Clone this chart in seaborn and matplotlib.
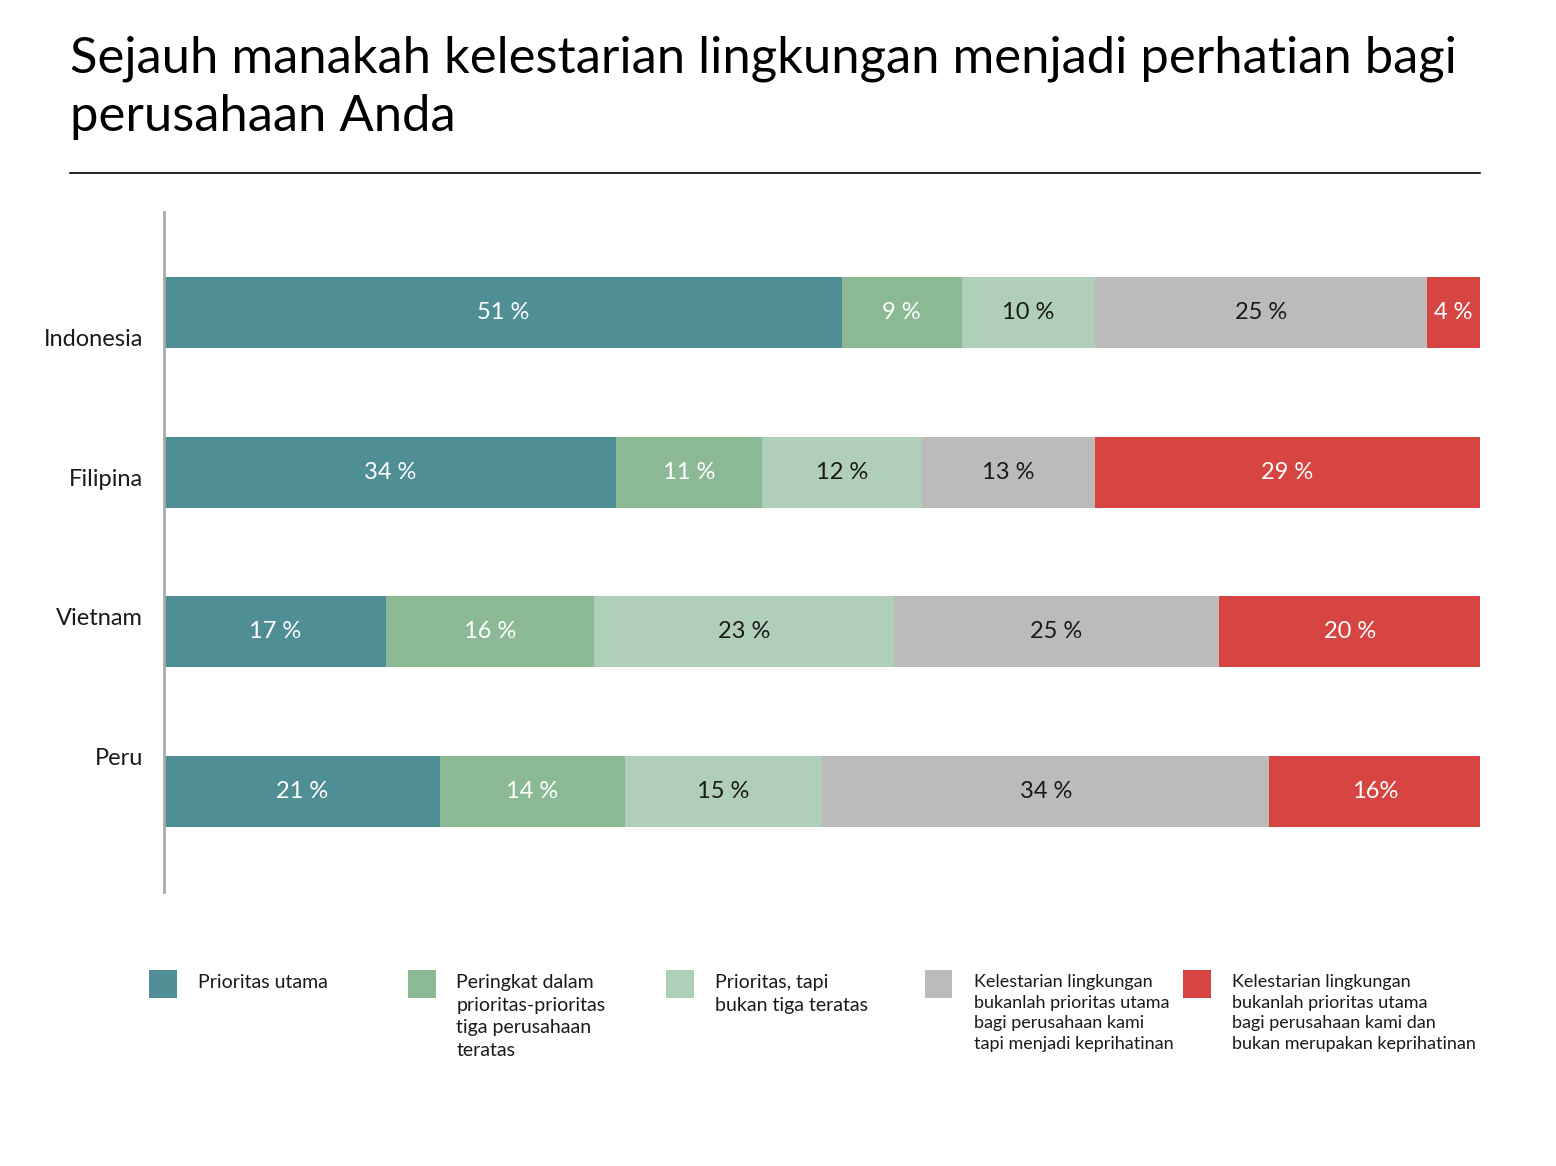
import pandas as pd
import seaborn as sns
import matplotlib.pyplot as plt
from matplotlib.patches import Rectangle

# data dibaca dari gambar referensi
countries = ["Indonesia", "Filipina", "Vietnam", "Peru"]
categories = [
    "Prioritas utama",
    "Peringkat dalam\nprioritas-prioritas\ntiga perusahaan\nteratas",
    "Prioritas, tapi\nbukan tiga teratas",
    "Kelestarian lingkungan\nbukanlah prioritas utama\nbagi perusahaan kami\ntapi menjadi keprihatinan",
    "Kelestarian lingkungan\nbukanlah prioritas utama\nbagi perusahaan kami dan\nbukan merupakan keprihatinan",
]
prioritas_utama = [51, 34, 17, 21]
tiga_teratas = [9, 11, 16, 14]
bukan_tiga_teratas = [10, 12, 23, 15]
menjadi_keprihatinan = [25, 13, 25, 34]
bukan_keprihatinan = [4, 29, 20, 16]
label_tanpa_spasi = {("Peru", 4)}  # di gambar tertulis "16%"

colors = ["#4E8E94", "#8AB994", "#B0CFB8", "#BBBBBB", "#D64541"]
text_colors = ["white", "white", "#1a1a1a", "#1a1a1a", "white"]

series = [prioritas_utama, tiga_teratas, bukan_tiga_teratas,
          menjadi_keprihatinan, bukan_keprihatinan]

# tabel panjang: tiap baris dinormalisasi ke 100 (bar penuh)
rows = []
for i, c in enumerate(countries):
    total = sum(s[i] for s in series)
    start = 0.0
    for k, s in enumerate(series):
        share = s[i] / total * 100
        rows.append({"negara": c, "kat": k, "nilai": s[i],
                     "mulai": start, "akhir": start + share})
        start += share
df = pd.DataFrame(rows)

plt.rcParams["font.family"] = ["Lato", "DejaVu Sans"]
fig = plt.figure(figsize=(15.56, 11.66), dpi=100)
ax = fig.add_axes([164 / 1556, 1 - 892 / 1166, 1316 / 1556, 680 / 1166])

# stacked: gambar kumulatif dari belakang ke depan
for k in reversed(range(len(categories))):
    sub = df[df["kat"] == k]
    sns.barplot(data=sub, x="akhir", y="negara", order=countries, orient="h",
                color=colors[k], saturation=1, width=0.445, linewidth=0,
                ax=ax)

for _, r in df.iterrows():
    txt = f"{r['nilai']}%" if (r["negara"], r["kat"]) in label_tanpa_spasi else f"{r['nilai']} %"
    ax.text((r["mulai"] + r["akhir"]) / 2, countries.index(r["negara"]), txt,
            ha="center", va="center", fontsize=17, color=text_colors[r["kat"]])

ax.set_xlim(0, 100)
ax.set_ylim(3.633, -0.633)
ax.set_xticks([])
ax.set_yticks([])
ax.set_xlabel("")
ax.set_ylabel("")
for s in ["top", "right", "bottom"]:
    ax.spines[s].set_visible(False)
ax.spines["left"].set_color("#AAAAAA")
ax.spines["left"].set_linewidth(2)

# label negara (sedikit bergeser dari pusat bar, seperti aslinya)
for i, c in enumerate(countries):
    ax.text(-21 / 1316, 1 - (0.188 + i * 0.205), c, transform=ax.transAxes,
            ha="right", va="center", fontsize=17, color="#1a1a1a")

# judul
fig.text(70 / 1556, 1 - 36 / 1166,
         "Sejauh manakah kelestarian lingkungan menjadi perhatian bagi\nperusahaan Anda",
         ha="left", va="top", fontsize=36.5, color="black", linespacing=1.3)
fig.add_artist(plt.Line2D([70 / 1556, 1480 / 1556], [1 - 173 / 1166] * 2,
                          color="black", linewidth=1.2))

# legenda manual
for k, lab in enumerate(categories):
    x0 = 149 + k * 258.5
    fig.add_artist(Rectangle((x0 / 1556, 1 - 998 / 1166), 28 / 1556, 28 / 1166,
                             transform=fig.transFigure, color=colors[k], lw=0))
    small = k >= 3
    fig.text((x0 + 49) / 1556, 1 - 974 / 1166, lab, ha="left", va="top",
             fontsize=13 if small else 14, color="#1a1a1a",
             linespacing=1.35 if small else 1.4)

plt.savefig("out.png", dpi=100)
